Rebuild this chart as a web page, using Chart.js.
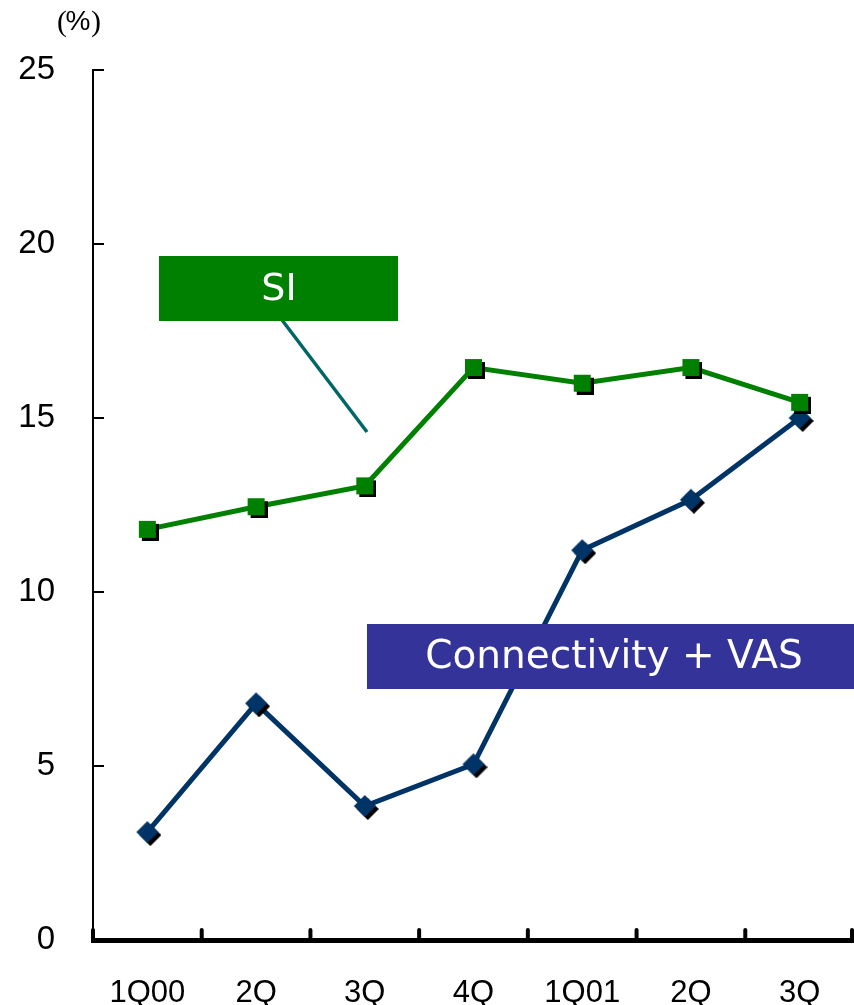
<!DOCTYPE html>
<html>
<head>
<meta charset="utf-8">
<script src="https://cdn.jsdelivr.net/npm/chart.js@4"></script>
<style>
  html, body { margin: 0; padding: 0; background: #fff; }
  #wrap { width: 854px; height: 1005px; }
</style>
</head>
<body>
<div id="wrap"><canvas id="myChart" width="854" height="1005"></canvas></div>
<script>
const quarters = ['1Q00', '2Q', '3Q', '4Q', '1Q01', '2Q', '3Q'];
const siValues = [11.8, 12.45, 13.05, 16.45, 16.0, 16.45, 15.45];
const connValues = [3.1, 6.8, 3.85, 5.05, 11.2, 12.65, 15.0];
const yTicks = [0, 5, 10, 15, 20, 25];

const GREEN = '#008000';
const NAVY = '#003366';

// marker images with a black drop shadow, centred on the coloured shape
function squareMarker(half, off, color) {
  const c = document.createElement('canvas');
  c.width = c.height = 2 * (half + off);
  const g = c.getContext('2d');
  g.fillStyle = '#000';
  g.fillRect(2 * off, 2 * off, 2 * half, 2 * half);
  g.fillStyle = color;
  g.fillRect(off, off, 2 * half, 2 * half);
  return c;
}

function diamondMarker(half, off, color) {
  const c = document.createElement('canvas');
  c.width = c.height = 2 * (half + off);
  const g = c.getContext('2d');
  const dia = (cx, cy, fill) => {
    g.fillStyle = fill;
    g.beginPath();
    g.moveTo(cx, cy - half);
    g.lineTo(cx + half, cy);
    g.lineTo(cx, cy + half);
    g.lineTo(cx - half, cy);
    g.closePath();
    g.fill();
  };
  dia(half + 2 * off, half + 2 * off, '#000');
  dia(half + off, half + off, color);
  return c;
}

const extras = {
  id: 'extras',
  afterDatasetsDraw(chart) {
    const c = chart.ctx;
    // SI label box + connector
    c.save();
    c.strokeStyle = '#006666';
    c.lineWidth = 3.5;
    c.beginPath();
    c.moveTo(282, 320);
    c.lineTo(367, 432);
    c.stroke();
    c.fillStyle = GREEN;
    c.fillRect(159, 256, 239, 65);
    c.fillStyle = '#fff';
    c.font = '38px "DejaVu Sans"';
    c.textAlign = 'center';
    c.textBaseline = 'middle';
    c.fillText('SI', 279, 290);
    // Connectivity label box
    c.fillStyle = '#333399';
    c.fillRect(367, 624, 487, 65);
    c.fillStyle = '#fff';
    c.font = '39px "DejaVu Sans"';
    c.fillText('Connectivity + VAS', 614, 658);
    c.restore();
  },
  afterDraw(chart) {
    const c = chart.ctx;
    const y = chart.scales.y;
    const area = chart.chartArea;
    c.save();
    // inward y ticks
    c.strokeStyle = '#000';
    c.lineWidth = 2;
    yTicks.forEach(v => {
      if (v === 0) return;
      const py = Math.round(y.getPixelForValue(v));
      c.beginPath();
      c.moveTo(area.left, py);
      c.lineTo(area.left + 11, py);
      c.stroke();
    });
    // inward x ticks at category boundaries
    c.lineWidth = 4;
    c.lineCap = 'round';
    const step = (area.right - area.left) / quarters.length;
    for (let i = 0; i <= quarters.length; i++) {
      const px = Math.min(area.left + i * step, area.right - 2);
      c.beginPath();
      c.moveTo(px, area.bottom);
      c.lineTo(px, area.bottom - 10);
      c.stroke();
    }
    // unit label
    c.fillStyle = '#000';
    c.font = '30px "Liberation Serif"';
    c.textAlign = 'center';
    c.textBaseline = 'middle';
    c.fillText('(', 62, 23);
    c.fillText(')', 96, 23);
    c.font = '28px "Liberation Sans"';
    c.fillText('%', 78, 22);
    c.restore();
  }
};

const ctx = document.getElementById('myChart');

const myChart = new Chart(ctx, {
  type: 'line',
  data: {
    labels: quarters,
    datasets: [{
      label: 'SI',
      data: siValues,
      borderColor: GREEN,
      borderWidth: 5,
      pointStyle: squareMarker(8.5, 3, GREEN),
      pointRadius: 10,
      tension: 0
    }, {
      label: 'Connectivity + VAS',
      data: connValues,
      borderColor: NAVY,
      borderWidth: 5,
      pointStyle: diamondMarker(11, 3, NAVY),
      pointRadius: 12,
      tension: 0
    }]
  },
  options: {
    responsive: false,
    animation: false,
    layout: { autoPadding: false, padding: { top: 70, right: 0, left: 0, bottom: 0 } },
    plugins: {
      legend: { display: false },
      tooltip: { enabled: false }
    },
    scales: {
      x: {
        offset: true,
        grid: { display: true, drawOnChartArea: false, drawTicks: false },
        border: { display: true, color: '#000', width: 5 },
        ticks: {
          color: '#000',
          font: { family: 'Liberation Sans', size: 31 },
          padding: 35,
          maxRotation: 0,
          autoSkip: false
        },
        afterFit(scale) {
          scale.height = 65;
          scale.paddingLeft = 0;
          scale.paddingRight = 0;
        }
      },
      y: {
        min: 0,
        max: 25,
        afterBuildTicks(scale) { scale.ticks = yTicks.map(v => ({ value: v })); },
        grid: { display: true, drawOnChartArea: false, drawTicks: false },
        border: { display: true, color: '#000', width: 2 },
        ticks: {
          color: '#000',
          font: { family: 'Liberation Sans', size: 33 },
          padding: 38
        },
        afterFit(scale) { scale.width = 93; }
      }
    }
  },
  plugins: [extras]
});
</script>
</body>
</html>
